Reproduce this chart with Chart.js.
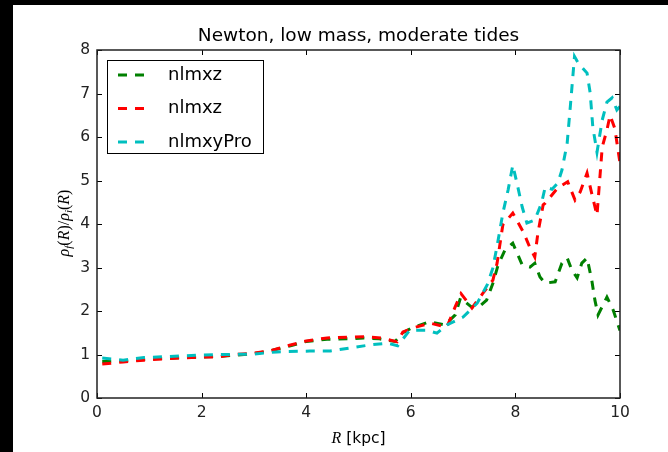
<!DOCTYPE html>
<html>
<head>
<meta charset="utf-8">
<script src="https://cdn.jsdelivr.net/npm/chart.js@4.4.0/dist/chart.umd.min.js"></script>
<style>
  html, body { margin: 0; padding: 0; background: #000; }
  #wrap { position: absolute; left: 13px; top: 5px; width: 655px; height: 447px; background: #fff; }
</style>
</head>
<body>
<div id="wrap"><canvas id="chart"></canvas></div>
<script>
// values
const seriesNames = ['nlmxz', 'nlmxz', 'nlmxyPro'];

const greenR = [0.1, 0.5, 1.0, 1.5, 2.0, 2.5, 3.0, 3.3, 3.7, 4.0, 4.4, 4.8, 5.1, 5.4, 5.7, 5.85, 6.0, 6.35, 6.65, 6.85,
  6.95, 7.15, 7.3, 7.45, 7.57, 7.67, 7.8, 7.95, 8.13, 8.28, 8.37, 8.47, 8.57, 8.76, 8.89, 8.99, 9.08, 9.18, 9.27, 9.37,
  9.46, 9.52, 9.58, 9.75, 9.87, 10.0];
const greenRho = [0.84, 0.85, 0.9, 0.92, 0.94, 0.97, 1.02, 1.08, 1.2, 1.3, 1.35, 1.36, 1.38, 1.36, 1.3, 1.5, 1.6, 1.75, 1.68, 1.91,
  2.3, 2.1, 2.09, 2.25, 2.64, 3.06, 3.4, 3.56, 3.06, 3.01, 3.1, 2.78, 2.64, 2.67, 3.1, 3.22, 2.94, 2.76, 3.1, 3.22,
  2.71, 2.25, 1.91, 2.32, 2.02, 1.55];

const redR = [0.1, 0.5, 0.9, 1.3, 1.6, 2.0, 2.3, 2.6, 3.0, 3.3, 3.7, 4.0, 4.4, 4.8, 5.1, 5.45, 5.74, 5.85, 6.04, 6.37,
  6.69, 6.85, 6.96, 7.17, 7.38, 7.57, 7.65, 7.76, 7.95, 8.15, 8.28, 8.37, 8.43, 8.53, 8.57, 8.81, 9.0, 9.14, 9.24, 9.37,
  9.46, 9.56, 9.66, 9.75, 9.81, 9.9, 10.0];
const redRho = [0.78, 0.83, 0.87, 0.9, 0.92, 0.94, 0.94, 1.0, 1.03, 1.08, 1.22, 1.31, 1.38, 1.4, 1.41, 1.38, 1.29, 1.52, 1.61, 1.72,
  1.63, 2.1, 2.4, 2.07, 2.41, 2.71, 3.1, 3.98, 4.25, 3.82, 3.45, 3.24, 3.79, 4.44, 4.48, 4.83, 4.97, 4.55, 4.74, 5.17,
  4.7, 4.2, 5.77, 6.16, 6.5, 6.2, 5.4];

const cyanR = [0.1, 0.5, 0.9, 1.3, 2.0, 3.0, 3.44, 4.07, 4.46, 4.84, 5.22, 5.55, 5.75, 5.98, 6.31, 6.5, 6.69, 7.0, 7.27, 7.46,
  7.57, 7.67, 7.76, 7.86, 7.95, 8.03, 8.13, 8.22, 8.37, 8.5, 8.57, 8.7, 8.81, 8.89, 8.99, 9.05, 9.13, 9.2, 9.37, 9.43,
  9.48, 9.56, 9.66, 9.75, 9.85, 9.94, 10.0];
const cyanRho = [0.92, 0.87, 0.93, 0.95, 0.99, 1.01, 1.06, 1.08, 1.08, 1.15, 1.22, 1.26, 1.2, 1.56, 1.56, 1.49, 1.68, 1.86, 2.18, 2.6,
  2.99, 3.63, 4.25, 4.78, 5.35, 4.94, 4.39, 4.02, 4.09, 4.48, 4.85, 4.8, 4.94, 5.24, 5.86, 6.7, 7.85, 7.7, 7.47, 7.01,
  6.23, 5.65, 6.39, 6.8, 6.9, 6.62, 6.7];

const xTicks = [0, 2, 4, 6, 8, 10];
const yTicks = [0, 1, 2, 3, 4, 5, 6, 7, 8];

const toPoints = (xs, ys) => xs.map((v, i) => ({x: v, y: ys[i]}));

const colors = ['#008000', '#ff0000', '#00bfbf'];
const dash = [9, 8];

function drawParts(ctx, parts, x, y) {
    // parts: [text, font, dy]
    let w = 0;
    parts.forEach(p => { ctx.font = p[1]; w += ctx.measureText(p[0]).width; });
    let cx = x - w / 2;
    parts.forEach(p => {
        ctx.font = p[1];
        ctx.fillText(p[0], cx, y + (p[2] || 0));
        cx += ctx.measureText(p[0]).width;
    });
}

const extras = {
    id: 'extras',
    afterDatasetsDraw(chart) {
        const {ctx, chartArea: a, scales: {x, y}} = chart;
        ctx.save();

        // inward ticks on all sides
        ctx.strokeStyle = '#000';
        ctx.lineWidth = 1;
        ctx.beginPath();
        xTicks.forEach(v => {
            const px = Math.round(x.getPixelForValue(v)) + 0.5;
            ctx.moveTo(px, a.bottom); ctx.lineTo(px, a.bottom - 5);
            ctx.moveTo(px, a.top); ctx.lineTo(px, a.top + 5);
        });
        yTicks.forEach(v => {
            const py = Math.round(y.getPixelForValue(v)) + 0.5;
            ctx.moveTo(a.left, py); ctx.lineTo(a.left + 5, py);
            ctx.moveTo(a.right, py); ctx.lineTo(a.right - 5, py);
        });
        ctx.stroke();

        ctx.lineWidth = 1.5;
        ctx.strokeStyle = '#222';
        ctx.strokeRect(a.left, a.top, a.right - a.left, a.bottom - a.top);

        // title
        ctx.fillStyle = '#000';
        ctx.textAlign = 'center';
        ctx.textBaseline = 'alphabetic';
        ctx.font = '18.5px "DejaVu Sans"';
        ctx.fillText('Newton, low mass, moderate tides', (a.left + a.right) / 2, a.top - 9);

        // x axis title
        ctx.textAlign = 'left';
        const it = 'italic 16px "Liberation Serif"';
        const sans = '15.5px "DejaVu Sans"';
        drawParts(ctx, [['R', it], [' [kpc]', sans]], (a.left + a.right) / 2, a.bottom + 45);

        // y axis title
        ctx.save();
        ctx.translate(a.left - 28, (a.top + a.bottom) / 2 - 1);
        ctx.rotate(-Math.PI / 2);
        const sub = 'italic 11px "Liberation Serif"';
        const up = '16px "Liberation Serif"';
        drawParts(ctx, [['ρ', it], ['f', sub, 3], ['(', up], ['R', it], [')', up], ['/', up],
            ['ρ', it], ['i', sub, 3], ['(', up], ['R', it], [')', up]], 0, 0);
        ctx.restore();

        // legend
        const lx = a.left + 10, ly = a.top + 10, lw = 156, lh = 93;
        ctx.fillStyle = '#fff';
        ctx.fillRect(lx, ly, lw, lh);
        ctx.lineWidth = 1;
        ctx.strokeStyle = '#000';
        ctx.strokeRect(lx + 0.5, ly + 0.5, lw, lh);
        ctx.font = '18px "DejaVu Sans"';
        ctx.textBaseline = 'middle';
        chart.data.datasets.forEach((ds, i) => {
            const ry = ly + 15 + i * 33.5;
            ctx.strokeStyle = ds.borderColor;
            ctx.lineWidth = 3;
            ctx.setLineDash(dash);
            ctx.beginPath();
            ctx.moveTo(lx + 11, ry); ctx.lineTo(lx + 39, ry);
            ctx.stroke();
            ctx.setLineDash([]);
            ctx.fillStyle = '#000';
            ctx.fillText(ds.label, lx + 61, ry);
        });
        ctx.restore();
    }
};

const ctx = document.getElementById('chart').getContext('2d');

new Chart(ctx, {
    type: 'line',

    data: {
        datasets: [
            {label: seriesNames[0], data: toPoints(greenR, greenRho), borderColor: colors[0], order: 3},
            {label: seriesNames[1], data: toPoints(redR, redRho), borderColor: colors[1], order: 2},
            {label: seriesNames[2], data: toPoints(cyanR, cyanRho), borderColor: colors[2], order: 1}
        ]
    },

    options: {
        responsive: true,
        maintainAspectRatio: false,
        animation: false,
        events: [],
        layout: {padding: {left: 0, top: 45, right: 48, bottom: 0}},
        elements: {
            line: {borderWidth: 3, borderDash: dash, tension: 0, fill: false},
            point: {radius: 0}
        },
        plugins: {legend: {display: false}, title: {display: false}, tooltip: {enabled: false}},
        scales: {
            x: {
                type: 'linear', min: 0, max: 10,
                grid: {display: false, drawTicks: false},
                border: {display: false},
                ticks: {stepSize: 2, padding: 6, color: '#222', font: {family: 'DejaVu Sans', size: 15.5}},
                afterFit(s) { s.height = 54; }
            },
            y: {
                min: 0, max: 8,
                grid: {display: false, drawTicks: false},
                border: {display: false},
                ticks: {stepSize: 1, padding: 7, color: '#222', font: {family: 'DejaVu Sans', size: 15.5}},
                afterFit(s) { s.width = 84; }
            }
        }
    },

    plugins: [extras]
});
</script>
</body>
</html>
